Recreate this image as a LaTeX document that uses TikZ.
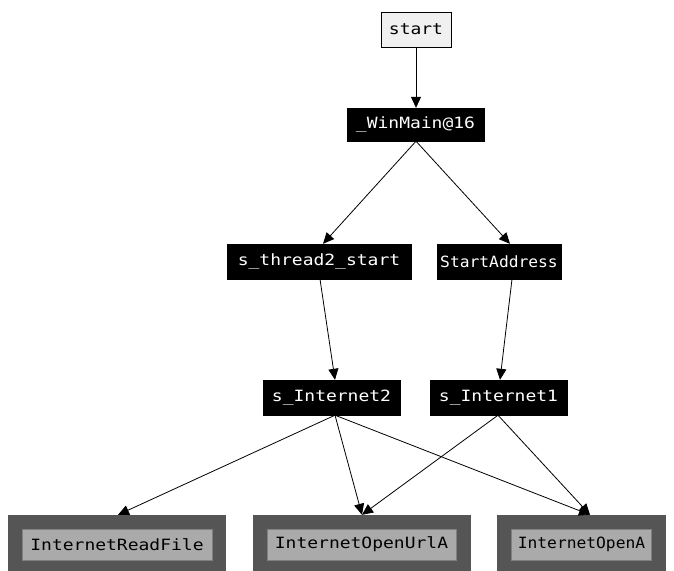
\documentclass[tikz,border=0pt]{standalone}
\usepackage{fontspec}
\newfontfamily\pixfont[FakeStretch=1.16]{DejaVu Sans Mono}
\newfontfamily\pixnarrow[FakeStretch=1.05]{DejaVu Sans Mono}
\usetikzlibrary{arrows.meta}
\definecolor{outergray}{HTML}{555555}
\definecolor{innergray}{HTML}{AAAAAA}
\definecolor{startgray}{HTML}{F0F0F0}
\begin{document}
\begin{tikzpicture}[x=1pt,y=-1pt,
  blk/.style={draw=black,fill=black,text=white,inner sep=0pt,minimum height=35pt,font=\pixfont\fontsize{15.5}{15.5}\selectfont},
  startbox/.style={draw=black,line width=1pt,fill=startgray,text=black,inner sep=0pt,minimum height=35pt,font=\pixfont\fontsize{15.5}{15.5}\selectfont},
  outerbox/.style={draw=outergray,fill=outergray,inner sep=0pt,minimum height=59pt},
  innerbox/.style={draw=gray,line width=0.5pt,fill=innergray,text=black,inner sep=0pt,minimum height=31pt,font=\pixfont\fontsize{15.5}{15.5}\selectfont},
  narrowtext/.style={font=\pixnarrow\fontsize{15.5}{15.5}\selectfont},
  edge/.style={draw=black,line width=0.8pt,-{Triangle[length=11pt,width=10pt]}}]
\useasboundingbox (0,0) rectangle (674,570);
\clip (0,0) rectangle (674,570);
\fill[white] (0,0) rectangle (674,570);

\node[startbox,minimum width=70pt] (start) at (416,29.5) {start};
\node[blk,minimum width=137pt,minimum height=33pt] (winmain) at (415.5,124.5) {\_WinMain@16};
\node[blk,minimum width=184pt] (thread) at (319,261.5) {s\_thread2\_start};
\node[blk,narrowtext,minimum width=124pt] (startaddr) at (499,261.5) {StartAddress};
\node[blk,minimum width=137pt] (inet2) at (331.5,397.5) {s\_Internet2};
\node[blk,minimum width=137pt] (inet1) at (498.5,397.5) {s\_Internet1};

\node[outerbox,minimum width=217pt] (readfile) at (116.5,544.5) {};
\node[innerbox,minimum width=190pt] (readfileT) at (117,544.5) {InternetReadFile};
\node[outerbox,minimum width=217pt] (openurl) at (361.5,544.5) {};
\node[innerbox,minimum width=189pt] (openurlT) at (361.5,544.5) {InternetOpenUrlA};
\node[outerbox,minimum width=168pt] (opena) at (581,544.5) {};
\node[innerbox,narrowtext,minimum width=140pt] (openaT) at (581.5,544.5) {InternetOpenA};

\draw[edge] (start.south) -- (start.south |- winmain.north);
\draw[edge] ([xshift=0.5pt]winmain.south) -- ([xshift=4pt]thread.north);
\draw[edge] ([xshift=0.5pt]winmain.south) -- ([xshift=11pt]startaddr.north);
\draw[edge] ([xshift=1pt]thread.south) -- ([xshift=3.5pt]inet2.north);
\draw[edge] ([xshift=13pt]startaddr.south) -- ([xshift=1.5pt]inet1.north);
\draw[edge] ([xshift=3.5pt]inet2.south) -- ([xshift=1.5pt]readfile.north);
\draw[edge] ([xshift=3.5pt]inet2.south) -- ([xshift=0.5pt]openurl.north);
\draw[edge] ([xshift=3.5pt]inet2.south) -- ([xshift=9pt]opena.north);
\draw[edge] ([xshift=-0.5pt]inet1.south) -- ([xshift=0.5pt]openurl.north);
\draw[edge] ([xshift=-0.5pt]inet1.south) -- ([xshift=9pt]opena.north);
\end{tikzpicture}
\end{document}
